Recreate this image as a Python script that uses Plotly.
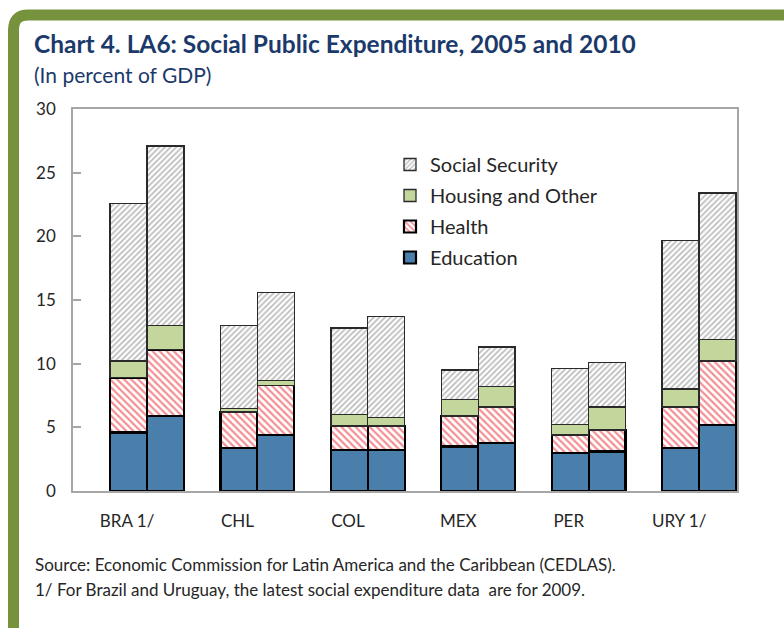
import plotly.graph_objects as go

# Social public expenditure by function, percent of GDP (first bar 2005, second bar 2010/2009)
countries = ["BRA 1/", "CHL", "COL", "MEX", "PER", "URY 1/"]
years = ["2005", "2010"]

education_05 = [4.6, 3.4, 3.2, 3.5, 3.0, 3.4]
education_10 = [5.9, 4.4, 3.2, 3.8, 3.1, 5.2]
health_05 = [4.3, 2.8, 1.9, 2.4, 1.4, 3.2]
health_10 = [5.2, 3.9, 1.9, 2.8, 1.7, 5.0]
housing_05 = [1.3, 0.3, 0.9, 1.3, 0.8, 1.4]
housing_10 = [1.9, 0.4, 0.7, 1.6, 1.8, 1.7]
social_security_05 = [12.4, 6.5, 6.8, 2.3, 4.4, 11.7]
social_security_10 = [14.1, 6.9, 7.9, 3.1, 3.5, 11.5]

y_ticks = [0, 5, 10, 15, 20, 25, 30]

W, H = 784, 628
L, R, T, B = 73, 737, 109, 491  # plot area in pixels


def px(x):
    return (x - L) / (R - L)


def py(y):
    return (B - y) / (B - T)


bar_w = 0.334
x_pos = [i - bar_w / 2 for i in range(len(countries))] + [i + bar_w / 2 for i in range(len(countries))]


def pair(a, b):
    return list(a) + list(b)


series = [
    ("Education", pair(education_05, education_10), 4,
     dict(color="#4a7eab", line=dict(color="#000000", width=2.2))),
    ("Health", pair(health_05, health_10), 3,
     dict(color="#ffffff", line=dict(color="#000000", width=2.2),
          pattern=dict(shape="\\", fgcolor="#e8202a", bgcolor="#ffffff", size=5, solidity=0.45))),
    ("Housing and Other", pair(housing_05, housing_10), 2,
     dict(color="#c3d69b", line=dict(color="#2a2a2a", width=1.3))),
    ("Social Security", pair(social_security_05, social_security_10), 1,
     dict(color="#ffffff", line=dict(color="#2a2a2a", width=1.3),
          pattern=dict(shape="/", fgcolor="#7a7a7a", bgcolor="#ffffff", size=4, solidity=0.45))),
]

fig = go.Figure()
for name, vals, rank, marker in series:
    fig.add_trace(go.Bar(
        x=x_pos, y=vals, width=bar_w, name=name, marker=marker,
        legendgroup=name, legendrank=rank,
        hovertemplate=name + ": %{y:.1f}<extra></extra>",
    ))

fig.update_layout(
    width=W, height=H,
    margin=dict(l=L, r=W - R, t=T, b=H - B, autoexpand=False),
    barmode="stack",
    paper_bgcolor="#ffffff",
    plot_bgcolor="#ffffff",
    font=dict(family="Lato, Open Sans, sans-serif", size=17, color="#262626"),
    showlegend=True,
    legend=dict(
        x=px(390), y=py(145), xanchor="left", yanchor="top",
        traceorder="grouped", tracegroupgap=2,
        font=dict(size=20, color="#262626"),
        bgcolor="rgba(0,0,0,0)", itemwidth=30,
    ),
    xaxis=dict(
        range=[-0.67, 5.344],
        tickmode="array",
        tickvals=[i - 0.18 for i in range(len(countries))],
        ticktext=countries,
        ticks="", showgrid=False, zeroline=False,
        showline=True, linecolor="#a6a6a6", linewidth=1.5, mirror=True,
        tickfont=dict(size=17, color="#262626"),
        ticklabelstandoff=14,
    ),
    yaxis=dict(
        range=[0, 30],
        tickmode="array", tickvals=y_ticks,
        ticks="inside", ticklen=8, tickcolor="#a6a6a6", tickwidth=1.5,
        showgrid=False, zeroline=False,
        showline=True, linecolor="#a6a6a6", linewidth=1.5, mirror=True,
        tickfont=dict(size=17, color="#262626"),
        ticklabelstandoff=12,
    ),
)

# olive frame around the whole panel
fig.add_shape(
    type="path", xref="paper", yref="paper",
    path=(f"M {px(13.5)} {py(640)} L {px(13.5)} {py(30)} "
          f"Q {px(13.5)} {py(15)} {px(28)} {py(15)} "
          f"L {px(800)} {py(15)} L {px(800)} {py(640)} Z"),
    line=dict(color="#76923c", width=11),
    fillcolor="rgba(0,0,0,0)", layer="above",
)

annotations = [
    dict(text="<b>Chart 4. LA6: Social Public Expenditure, 2005 and 2010</b>",
         x=px(32), y=py(43), font=dict(size=24.5, color="#1b3a6b")),
    dict(text="(In percent of GDP)",
         x=px(32), y=py(75), font=dict(size=21, color="#1b3a6b")),
    dict(text="Source: Economic Commission for Latin America and the Caribbean (CEDLAS).",
         x=px(33), y=py(564), font=dict(size=17, color="#262626")),
    dict(text="1/ For Brazil and Uruguay, the latest social expenditure data  are for 2009.",
         x=px(33), y=py(589), font=dict(size=17, color="#262626")),
]
for a in annotations:
    fig.add_annotation(xref="paper", yref="paper", xanchor="left", yanchor="middle",
                       showarrow=False, **a)

fig.write_html("out.html")
